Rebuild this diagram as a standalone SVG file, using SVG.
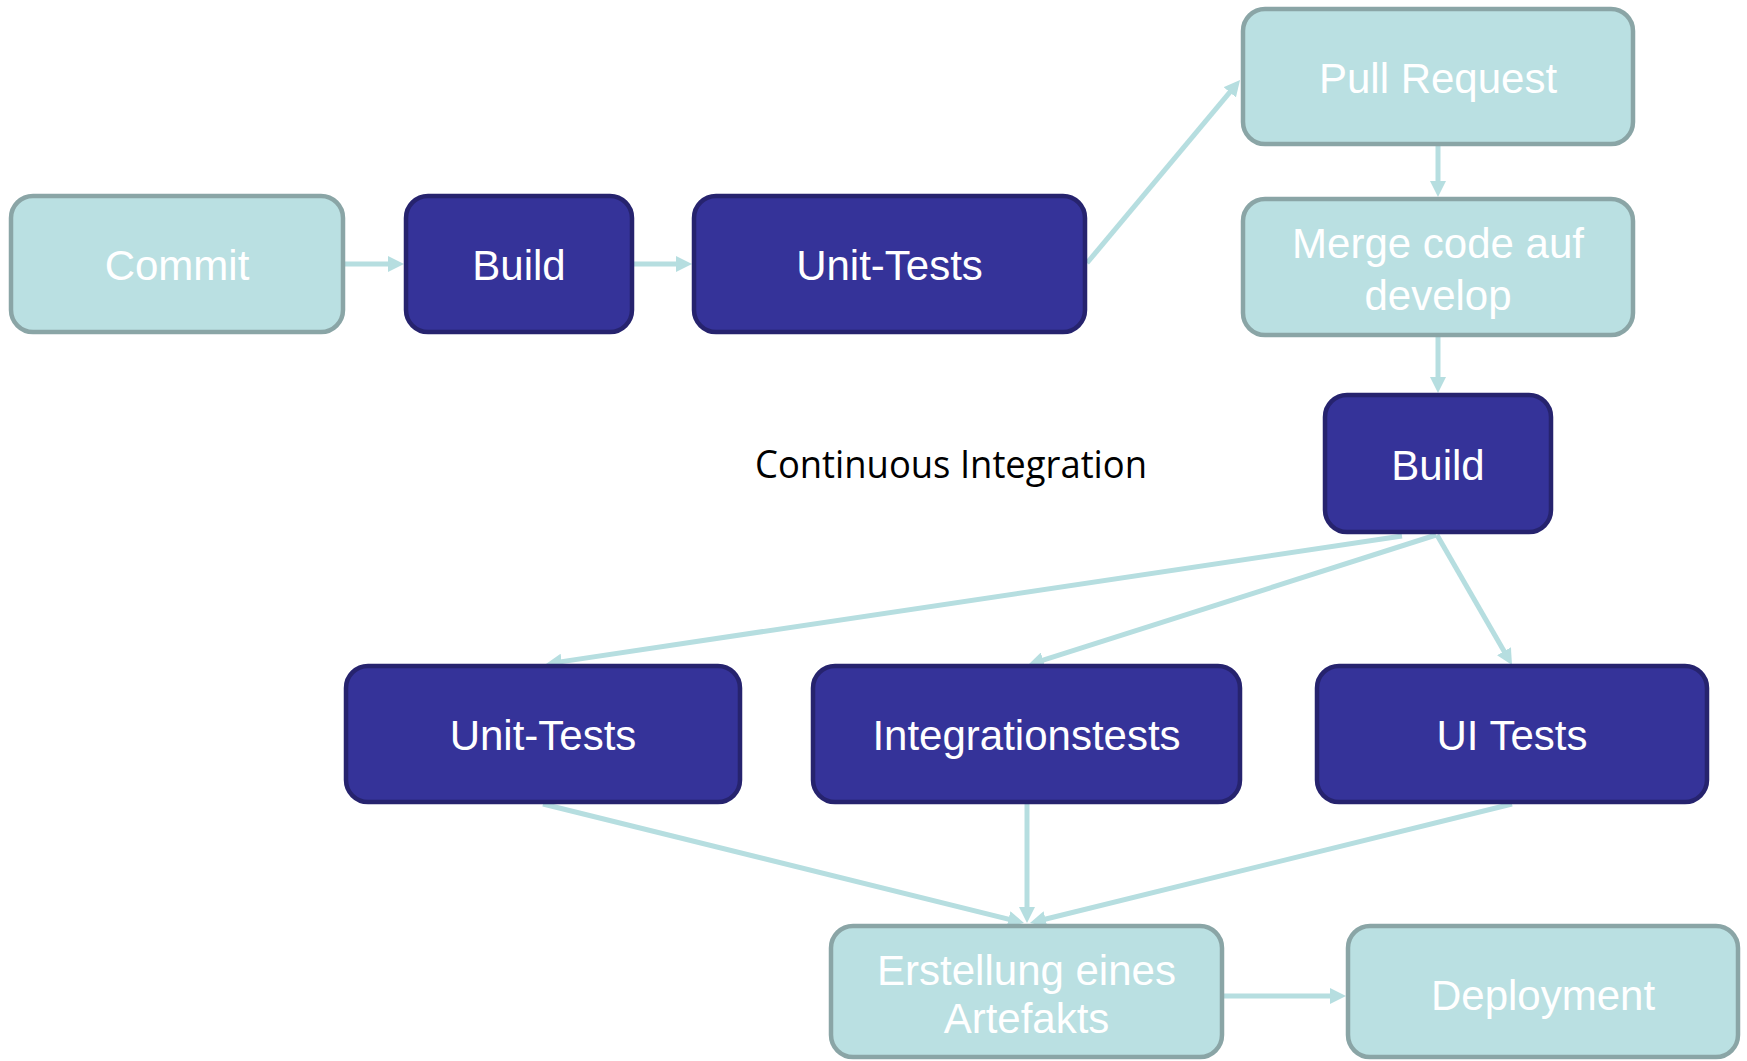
<svg xmlns="http://www.w3.org/2000/svg" width="1747" height="1061" viewBox="0 0 1747 1061">
<style>
.light{fill:#BAE0E2;stroke:#8AA5A6;stroke-width:4.5}
.dark{fill:#353399;stroke:#26236E;stroke-width:4.5}
.lbl{font-family:"Liberation Sans",Arial,sans-serif;font-size:42px;fill:#FFFFFF;text-anchor:middle}
.conn{stroke:#B6DEE0;stroke-width:5;fill:none;marker-end:url(#ah)}
</style>
<defs>
<marker id="ah" viewBox="0 0 16 16" markerWidth="16" markerHeight="16" refX="10" refY="8" markerUnits="userSpaceOnUse" orient="auto">
<path d="M0,0 L16,8 L0,16 z" fill="#B6DEE0"/>
</marker>
</defs>
<rect width="1747" height="1061" fill="#FFFFFF"/>
<g id="connectors">
<line class="conn" x1="345" y1="264" x2="398" y2="264"/>
<line class="conn" x1="634" y1="264" x2="686" y2="264"/>
<line class="conn" x1="1087" y1="263" x2="1236.2" y2="84.6"/>
<line class="conn" x1="1438" y1="146" x2="1438" y2="191"/>
<line class="conn" x1="1438" y1="337" x2="1438" y2="387"/>
<line class="conn" x1="1402" y1="536" x2="551.9" y2="663.1"/>
<line class="conn" x1="1436" y1="535" x2="1033.7" y2="663.2"/>
<line class="conn" x1="1437" y1="535" x2="1509" y2="659.8"/>
<line class="conn" x1="543" y1="804" x2="1018.2" y2="921.5"/>
<line class="conn" x1="1027" y1="804" x2="1027" y2="917"/>
<line class="conn" x1="1512" y1="804" x2="1035.8" y2="921.5"/>
<line class="conn" x1="1224" y1="996" x2="1340" y2="996"/>
</g>
<g id="commit"><rect class="light" x="11" y="196" width="332" height="136" rx="22"/><text class="lbl" x="177" y="280">Commit</text></g>
<g id="build1"><rect class="dark" x="406" y="196" width="226" height="136" rx="22"/><text class="lbl" x="519" y="280">Build</text></g>
<g id="unittests1"><rect class="dark" x="694" y="196" width="391" height="136" rx="22"/><text class="lbl" x="889.5" y="280">Unit-Tests</text></g>
<g id="pullrequest"><rect class="light" x="1243" y="9" width="390" height="135" rx="22"/><text class="lbl" x="1438" y="93">Pull Request</text></g>
<g id="merge"><rect class="light" x="1243" y="199" width="390" height="136" rx="22"/><text class="lbl" x="1438" y="258">Merge code auf</text><text class="lbl" x="1438" y="310">develop</text></g>
<g id="build2"><rect class="dark" x="1325" y="395" width="226" height="137" rx="22"/><text class="lbl" x="1438" y="480">Build</text></g>
<g id="unittests2"><rect class="dark" x="346" y="666" width="394" height="136" rx="22"/><text class="lbl" x="543" y="750">Unit-Tests</text></g>
<g id="integrationstests"><rect class="dark" x="813" y="666" width="427" height="136" rx="22"/><text class="lbl" x="1026.5" y="750">Integrationstests</text></g>
<g id="uitests"><rect class="dark" x="1317" y="666" width="390" height="136" rx="22"/><text class="lbl" x="1512" y="750">UI Tests</text></g>
<g id="artefakt"><rect class="light" x="831" y="926" width="391" height="131" rx="22"/><text class="lbl" x="1026.5" y="985">Erstellung eines</text><text class="lbl" x="1026.5" y="1033">Artefakts</text></g>
<g id="deployment"><rect class="light" x="1348" y="926" width="390" height="131" rx="22"/><text class="lbl" x="1543" y="1010">Deployment</text></g>
<text id="ci-label" x="951" y="478" font-family="'Open Sans','Noto Sans',sans-serif" font-size="38" fill="#000000" text-anchor="middle" textLength="392" lengthAdjust="spacingAndGlyphs">Continuous Integration</text>
</svg>
